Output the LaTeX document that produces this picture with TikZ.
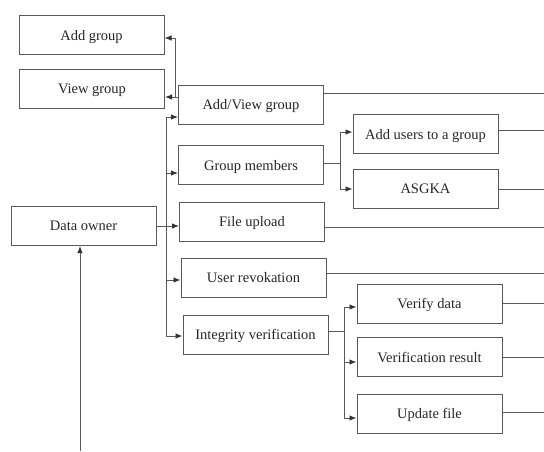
\documentclass[tikz,border=0pt]{standalone}
\usepackage{fontspec}
\setmainfont{Liberation Serif}
\usetikzlibrary{arrows.meta}

\begin{document}
\begin{tikzpicture}[x=1pt,y=-1pt,>={Latex[length=7pt,width=5.5pt,black!80]},
	box/.style={draw=gray!70!black,line width=1pt,minimum width=145pt,minimum height=39pt,inner sep=0pt,text depth=0pt,text=black!85,font=\fontsize{14.5}{16}\selectfont},
	wire/.style={draw=gray!70!black,line width=0.9pt}]
	\useasboundingbox (0,0) rectangle (544,451);
	\coordinate (edge) at (544,0);
	\coordinate (src) at (80,451);
	\node[box] (addg) at (91.5,35) {Add group};
	\node[box] (viewg) at (92,88.5) {View group};
	\node[box] (addview) at (251,104.5) {Add/View group};
	\node[box] (members) at (251,165) {Group members};
	\node[box] (addusers) at (425.5,134) {Add users to a group};
	\node[box] (asgka) at (425.5,189) {ASGKA};
	\node[box] (owner) at (83.5,226) {Data owner};
	\node[box] (upload) at (252,221.5) {File upload};
	\node[box] (revoke) at (253.5,277.5) {User revokation};
	\node[box] (integrity) at (255.5,334.5) {Integrity verification};
	\node[box] (verify) at (429.5,303.5) {Verify data};
	\node[box] (result) at (429.5,357) {Verification result};
	\node[box] (updatef) at (429.5,413.5) {Update file};
	\draw[wire,->] ([yshift=7.5pt]addview.west) -- ([yshift=7.5pt]addview.west -| viewg.east);
	\draw[wire,->] ([yshift=7.5pt]addview.west) -- ++(-3,0) |- ([yshift=-3pt]addg.east);
	\draw[wire,->] (owner.east) -- (owner.east -| upload.west);
	\draw[wire,->] (owner.east) -- ++(10,0) |- ([yshift=-12.5pt]addview.west);
	\draw[wire,->] (owner.east) -- ++(10,0) |- ([yshift=-8pt]members.west);
	\draw[wire,->] (owner.east) -- ++(10,0) |- ([yshift=-2.5pt]revoke.west);
	\draw[wire,->] (owner.east) -- ++(10,0) |- ([yshift=-1.5pt]integrity.west);
	\draw[wire,->] ([yshift=2pt]members.east) -- ++(16,0) |- ([yshift=2pt]addusers.west);
	\draw[wire,->] ([yshift=2pt]members.east) -- ++(16,0) |- (asgka.west);
	\draw[wire,->] ([yshift=3.5pt]integrity.east) -- ++(16,0) |- ([yshift=-3.5pt]verify.west);
	\draw[wire,->] ([yshift=3.5pt]integrity.east) -- ++(16,0) |- ([yshift=-5pt]result.west);
	\draw[wire,->] ([yshift=3.5pt]integrity.east) -- ++(16,0) |- ([yshift=-4.5pt]updatef.west);
	\draw[wire,->] (src) -- (src |- owner.south);
	\draw[wire] ([yshift=11.5pt]addview.east) -- ([yshift=11.5pt]addview.east -| edge);
	\draw[wire] ([yshift=4pt]addusers.east) -- ([yshift=4pt]addusers.east -| edge);
	\draw[wire] (asgka.east) -- (asgka.east -| edge);
	\draw[wire] ([yshift=-5.5pt]upload.east) -- ([yshift=-5.5pt]upload.east -| edge);
	\draw[wire] ([yshift=4.5pt]revoke.east) -- ([yshift=4.5pt]revoke.east -| edge);
	\draw[wire] (verify.east) -- (verify.east -| edge);
	\draw[wire] (result.east) -- (result.east -| edge);
	\draw[wire] ([yshift=1.5pt]updatef.east) -- ([yshift=1.5pt]updatef.east -| edge);
\end{tikzpicture}
\end{document}
